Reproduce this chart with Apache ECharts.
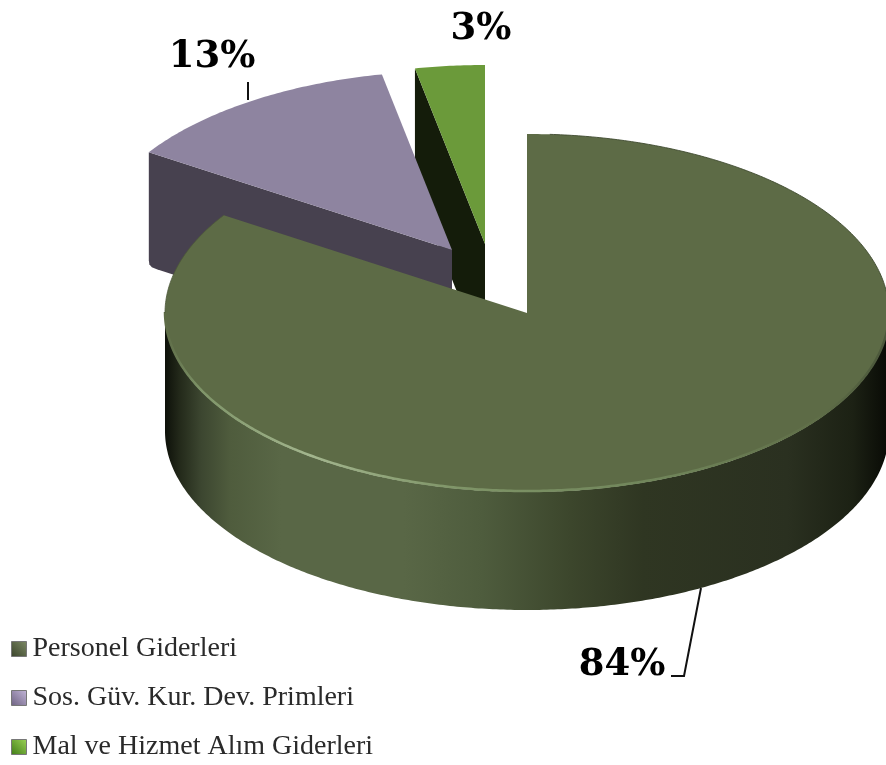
<!DOCTYPE html>
<html><head><meta charset="utf-8">
<style>html,body{margin:0;padding:0;background:#fff}#c{width:886px;height:765px}</style>
<script src="https://cdn.jsdelivr.net/npm/echarts@6/dist/echarts.min.js"></script>
</head><body><div id="c"></div>
<script>
const categories = ['Personel Giderleri', 'Sos. Güv. Kur. Dev. Primleri', 'Mal ve Hizmet Alım Giderleri'];
const values = [84.2, 12.7, 3.1];

// projection of the tilted pie
const CX = 527, CY = 313, RX = 362, RY = 179;
const explode = [[0, 0], [-75, -63], [-42, -69]];
const depths = [118, 115, 118];
const topColors = ['#5d6b46', '#8e84a0', '#6b9a3a'];
const wallColors = ['#3a442a', '#47414f', '#141c0a'];
const labelCenters = [[622, 665], [212, 57], [481, 29]];
const leaders = [[[701, 588], [684, 676], [671, 676]], [[248, 100], [248, 82]], []];
const seriesZ = [3, 2, 1];

const total = values.reduce((a, b) => a + b, 0);
const TAU = Math.PI * 2;
const abs = (x0, x1, stops) => new echarts.graphic.LinearGradient(x0, 0, x1, 0,
  stops.map(s => ({offset: s[0], color: s[1]})), true);
function arc(cx, cy, a0, a1, dy) {
  const n = Math.max(4, Math.ceil(Math.abs(a1 - a0) / 0.01)), pts = [];
  for (let i = 0; i <= n; i++) {
    const t = a0 + (a1 - a0) * i / n;
    pts.push([cx + RX * Math.sin(t), cy - RY * Math.cos(t) + (dy || 0)]);
  }
  return pts;
}
function sliceRender(idx) {
  return function (params, api) {
    const before = values.slice(0, idx).reduce((a, b) => a + b, 0);
    const a0 = before / total * TAU;
    const a1 = a0 + api.value(0) / total * TAU;
    const cx = CX + explode[idx][0], cy = CY + explode[idx][1], d = depths[idx];
    const kids = [];
    const top = [[cx, cy]].concat(arc(cx, cy, a0, a1));
    const poly = (points, style) => kids.push({type: 'polygon', shape: {points}, style});
    const line = (points, style) => kids.push({type: 'polyline', shape: {points}, style: Object.assign({fill: null}, style)});

    if (idx === 0) {
      // curved outer wall (front half only)
      const w0 = Math.max(a0, Math.PI / 2), w1 = Math.min(a1, Math.PI * 1.5);
      const wall = arc(cx, cy, w0, w1).concat(arc(cx, cy, w1, w0, d));
      poly(wall, {
        fill: abs(cx - RX, cx + RX, [
          [0, '#0d1009'], [0.02, '#23291a'], [0.05, '#3c4630'], [0.09, '#4f5c3d'], [0.16, '#596746'],
          [0.33, '#596746'], [0.44, '#4e5c3d'], [0.56, '#3c462c'], [0.66, '#2f3622'],
          [0.86, '#2a3020'], [0.95, '#1c2114'], [1, '#080a05']
        ])
      });
    } else {
      // flat cut face turned towards the viewer
      const p = arc(cx, cy, a0, a0)[0];
      const pts = [[p[0], p[1]], [cx, cy], [cx, cy + d]];
      if (idx === 1) {
        pts.push([p[0] + 8, p[1] + d + 2], [p[0] + 3, p[1] + d], [p[0] + 0.5, p[1] + d - 3], [p[0], p[1] + d - 7]);
      } else {
        pts.push([p[0], p[1] + d]);
      }
      poly(pts, {fill: wallColors[idx]});
    }
    poly(top, {fill: topColors[idx]});

    if (idx === 0) {
      line(arc(cx, cy, Math.PI * 0.02, Math.PI * 0.5), {stroke: '#3f4a30', lineWidth: 1, opacity: 0.9});
      line(arc(cx, cy - 1, Math.PI * 0.5, Math.PI * 1.5), {
        lineWidth: 2.5,
        stroke: abs(cx - RX, cx + RX, [
          [0, '#5d6b46'], [0.05, '#7f9569'], [0.2, '#a3b68e'], [0.4, '#7f9568'],
          [0.7, '#6f8459'], [0.9, '#5f6e48'], [1, '#4a563a']
        ])
      });
      line(arc(cx, cy, Math.PI * 1.5, a1), {stroke: '#4c583a', lineWidth: 1, opacity: 0.8});
    }

    // leader line and value label
    if (leaders[idx].length) {
      line(leaders[idx], {stroke: '#111', lineWidth: 2});
    }
    kids.push({
      type: 'text',
      style: {
        x: labelCenters[idx][0], y: labelCenters[idx][1],
        text: Math.round(api.value(0)) + '%',
        fill: '#000',
        font: 'bold 37px "DejaVu Serif"',
        textAlign: 'center', textVerticalAlign: 'middle'
      }
    });
    return {type: 'group', children: kids};
  };
}

const legendIcons = [
  ['#39432a', '#7d8a66'], ['#6c6080', '#c3b6d9'], ['#3f7a16', '#9bd356']
];
const chart = echarts.init(document.getElementById('c'), null, {renderer: 'canvas'});
chart.setOption({
  animation: false,
  backgroundColor: '#fff',
  legend: {
    orient: 'vertical', left: 11, top: 635, padding: 0,
    itemWidth: 15, itemHeight: 15, itemGap: 21,
    selectedMode: false,
    textStyle: {fontFamily: '"Liberation Serif"', fontSize: 28, color: '#2a2a2a', padding: [0, 0, 0, 1]},
    data: categories.map((name, i) => ({
      name, icon: 'rect',
      itemStyle: {
        borderColor: '#777', borderWidth: 1,
        color: new echarts.graphic.LinearGradient(0, 1, 1, 0, [
          {offset: 0, color: legendIcons[i][0]}, {offset: 1, color: legendIcons[i][1]}
        ])
      }
    }))
  },
  series: categories.map((name, i) => ({
    type: 'custom', name, coordinateSystem: 'none', z: seriesZ[i], silent: true,
    itemStyle: {color: topColors[i]},
    data: [[values[i]]],
    renderItem: sliceRender(i)
  }))
});
</script></body></html>
